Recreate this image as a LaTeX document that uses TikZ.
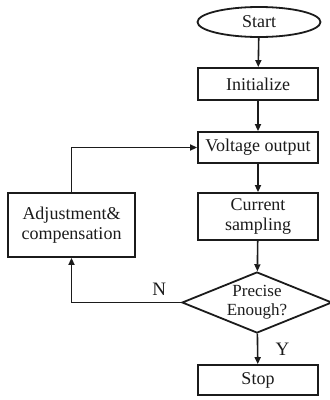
\documentclass[tikz,border=0pt]{standalone}
\usepackage{fontspec}
\setmainfont{Liberation Serif}
\usepackage{tikz}
\usetikzlibrary{positioning,arrows.meta,calc,shapes.geometric}
\definecolor{cInk}{HTML}{1B1B1B}
\tikzset{
  blk/.style={draw=cInk, line width=1.8pt, rectangle, align=center,
              inner sep=2pt, minimum width=120pt, font=\fontsize{18}{20}\selectfont},
  term/.style={blk, ellipse, minimum width=123pt, minimum height=30pt},
  dec/.style={draw=cInk, line width=1.8pt, diamond, inner sep=0pt,
              minimum width=150pt, minimum height=61pt},
  ar/.style={-{Triangle[length=7pt,width=6pt]}, cInk, line width=1.6pt},
  tag/.style={font=\fontsize{19}{20}\selectfont, cInk}
}
\begin{document}
\begin{tikzpicture}[x=1pt, y=-1pt, every node/.style={text=cInk}]
\useasboundingbox (0,0) rectangle (330,400);
% main column
\node[term] (start) at (259,22) {Start};
\node[blk, minimum height=32pt] (init) at (258,84) {Initialize};
\node[blk, minimum height=31pt] (volt) at (258,147.5) {Voltage output};
\node[blk, minimum height=47pt] (curr) at (258,216.5) {Current\\sampling};
\node[dec] (prec) at (257,302.5) {};
\node[align=center, font=\fontsize{17}{19}\selectfont] (precT) at (prec) {Precise\\Enough?};
\node[blk, minimum height=30pt] (stop) at (258,380) {Stop};
% feedback branch
\node[blk, minimum width=127pt, minimum height=64pt] (adj) at (71.5,225)
  {Adjustment\&\\compensation};
\draw[ar] (start) -- (init);
\draw[ar] (init) -- (volt);
\draw[ar] (volt) -- (curr);
\draw[ar] (curr) -- (prec);
\draw[ar] (prec) -- (stop) node[tag, midway, right=14pt] {Y};
\draw[ar] (prec.west) -| (adj.south) node[tag, pos=0.1, above=3pt] {N};
\draw[ar] (adj.north) |- (volt.west);
\end{tikzpicture}
\end{document}
